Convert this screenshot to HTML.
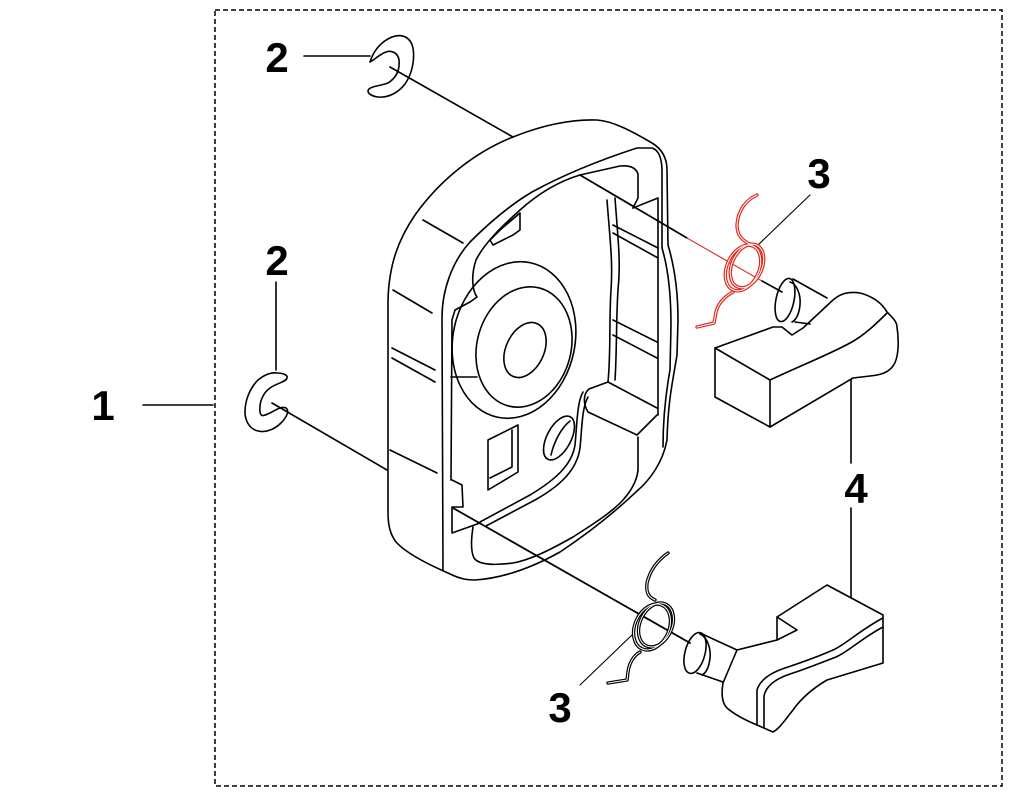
<!DOCTYPE html>
<html>
<head>
<meta charset="utf-8">
<style>
html,body{margin:0;padding:0;background:#fff;}
svg{display:block;}
text{font-family:"Liberation Sans",Arial,sans-serif;font-weight:bold;font-size:42px;fill:#000;}
</style>
</head>
<body>
<svg width="1024" height="800" viewBox="0 0 1024 800" xmlns="http://www.w3.org/2000/svg">
<rect x="0" y="0" width="1024" height="800" fill="#fff"/>
<!-- dashed frame -->
<rect x="215" y="10" width="787" height="776" fill="none" stroke="#000" stroke-width="1.5" stroke-dasharray="5 3"/>

<!-- labels -->
<text x="277" y="72" text-anchor="middle">2</text>
<text x="277" y="275" text-anchor="middle">2</text>
<text x="103" y="420" text-anchor="middle">1</text>
<text x="819" y="188" text-anchor="middle">3</text>
<text x="560" y="722" text-anchor="middle">3</text>
<text x="856" y="503" text-anchor="middle">4</text>

<g fill="none" stroke="#000" stroke-width="1.6" stroke-linejoin="round" stroke-linecap="round">
<!-- leader lines -->
<line x1="304" y1="56" x2="370" y2="56"/>
<line x1="276" y1="282" x2="276" y2="370"/>
<line x1="143" y1="405" x2="213" y2="405"/>
<line x1="851" y1="380" x2="851" y2="463"/>
<line x1="851" y1="508" x2="851" y2="597"/>
<line x1="810" y1="195" x2="758" y2="245" stroke-width="1.1"/>
<line x1="632" y1="635" x2="580" y2="685" stroke-width="1.1"/>
<!-- top clip to upper pin -->
<line x1="390" y1="67" x2="513" y2="137"/>
<line x1="580" y1="175" x2="687" y2="238" stroke-width="1.8"/>
<line x1="687" y1="238" x2="762" y2="281" stroke="#d83a30" stroke-width="1.2"/>
<line x1="762" y1="281" x2="782" y2="292"/>
<!-- lower clip to lower pin -->
<line x1="272" y1="403" x2="387" y2="470"/>
<line x1="453" y1="508" x2="690" y2="643" stroke-width="1.8"/>

<!-- clips -->
<path d="M370,62 C373,52 380,42 392,37 C403,33 411,38 413,48 C415,60 412,74 405,84 C398,93 388,98 378,97 C370,96 366,92 369,89 C372,86 380,86 388,83 C396,78 400,70 399,60 C398,53 392,50 386,52 C380,54 374,60 370,62 Z"/>
<path d="M277,373 C283,373 288,375 287,378 C286,382 277,383 270,388 C263,393 259,402 260,412 C261,418 265,415 270,413 C276,410 281,406 286,408 C290,411 286,418 281,423 C275,429 266,433 258,431 C249,429 245,420 245,412 C245,400 250,388 258,380 C263,376 270,372 277,373 Z"/>

<!-- housing outer body -->
<path d="M513,137 C540,126 570,119 597,120 C612,121 630,130 652,143 C662,149 667,158 667,170 L668,245 C674,265 678,290 678,320 L677,355 C673,380 668,400 667,440 C663,462 650,480 637,491 C615,512 590,532 560,552 C535,566 505,578 475,580 C465,580 458,578 448,573 C425,563 405,552 396,542 C390,534 388,525 388,512 L388,300 C389,265 398,240 415,215 C440,180 475,152 513,137"/>
<!-- front rim outer -->
<path d="M443,570 L442,318 C442,290 452,262 470,242 C490,222 510,205 532,192 C565,174 600,160 637,148 L652,148 C659,150 662,158 662,172 L662,248 C668,268 671,295 671,325 L670,370 C666,392 663,420 663,447"/>
<!-- inner lip -->
<path d="M633,208 L638,198 L638,174 C636,168 630,165 620,166 L580,175 C560,181 540,192 520,210 C500,228 484,244 476,260 C471,275 472,290 477,297 L470,302 L455,310 L452,320 L451,480"/>
<path d="M473,527 C471,540 471,552 474,558 C478,564 490,566 513,563 C530,560 550,550 573,537 C595,523 612,512 623,500 C632,490 637,480 638,470 L638,437"/>
<!-- right groove walls -->
<path d="M633,208 L658,198 L658,415"/>
<path d="M607,200 C610,240 613,262 611,290 C609,320 611,350 608,382"/>
<path d="M615,198 C618,240 621,262 618,290 C616,320 617,350 615,380"/>
<line x1="613" y1="225" x2="658" y2="248"/>
<line x1="613" y1="233" x2="658" y2="258"/>
<line x1="613" y1="320" x2="657" y2="342"/>
<line x1="613" y1="335" x2="657" y2="358"/>
<!-- shelf -->
<path d="M608,382 L657,408"/>
<path d="M608,382 L589,389 C583,394 583,404 588,412 L637,435 L657,415"/>
<path d="M583,392 C577,402 577,425 575,445 C572,465 555,480 530,495 L480,522"/>
<path d="M588,397 C582,407 582,428 580,448 C577,470 560,486 535,500 L486,526"/>
<!-- left grooves -->
<line x1="423" y1="220" x2="463" y2="243"/>
<line x1="393" y1="290" x2="432" y2="313"/>
<line x1="392" y1="348" x2="435" y2="370"/>
<line x1="392" y1="358" x2="435" y2="382"/>
<line x1="390" y1="450" x2="437" y2="473"/>
<!-- small brackets -->
<path d="M490,240 L500,230 L520,213 L520,230 L513,235 L493,245 Z"/>
<path d="M452,480 L462,485 L463,507 L452,507 M452,507 L452,533 L480,523"/>
<!-- boss -->
<ellipse cx="514" cy="340" rx="61" ry="79" transform="rotate(12 514 340)"/>
<ellipse cx="524" cy="347" rx="47" ry="61" transform="rotate(15 524 347)"/>
<line x1="451" y1="377" x2="477" y2="377"/>
<ellipse cx="525" cy="350" rx="19" ry="29" transform="rotate(25 525 350)"/>
<!-- square hole -->
<path d="M488,440 L518,425 L518,472 L488,490 Z"/>
<path d="M490,478 L512,467 L512,430"/>
<!-- round hole -->
<ellipse cx="559" cy="438" rx="12" ry="24" transform="rotate(28 559 438)"/>
<path d="M551,455 C554,442 561,428 570,421"/>

<!-- upper handle -->
<ellipse cx="785" cy="300" rx="9" ry="22" transform="rotate(12 785 300)"/>
<path d="M790,282 C797,284 801,295 800,305 C799,314 796,320 792,322"/>
<path d="M793,279 L827,298"/>
<path d="M795,322 L810,324"/>
<path d="M715,348 L715,397 L770,427 L770,380 Z"/>
<path d="M715,348 L773,327 L782,327 L792,335 L803,328 L833,300 C840,294 848,291 860,293 C872,296 882,303 887,312 C893,318 897,322 897,327 C899,340 899,358 893,366 C888,373 880,375 870,376 L853,378 L770,427"/>
<path d="M770,380 C800,366 830,354 850,343 C865,335 878,322 887,313"/>

<!-- lower handle -->
<ellipse cx="695" cy="653" rx="10" ry="21" transform="rotate(15 695 653)"/>
<path d="M700,634 C707,637 711,648 710,658 C709,667 706,673 702,675"/>
<path d="M700,633 L737,650"/>
<path d="M697,673 L723,682"/>
<path d="M737,650 L777,640 L777,617 L827,585 L883,615 L883,663 L827,680 C810,690 800,700 793,710 C785,720 780,728 773,732 L757,725 C745,720 735,715 727,708 C722,703 721,695 723,683 L737,650"/>
<path d="M777,617 L797,630 L777,640"/>
<path d="M883,618 C860,630 845,645 833,650 C815,658 800,663 785,668 C770,673 760,680 757,690 L757,725"/>
<path d="M883,627 C862,638 848,652 836,657 C818,664 803,670 790,674 C775,679 766,686 764,696 L764,728"/>
</g>

<!-- springs -->
<g fill="none" stroke-linecap="round" stroke-linejoin="round">
<g stroke="#e0281e" stroke-width="3.4">
<path d="M757,195 C746,200 738,210 737,225 C737,235 742,241 752,245"/>
<ellipse cx="743" cy="268" rx="16" ry="24" transform="rotate(25 743 268)"/>
<ellipse cx="747" cy="266" rx="15" ry="23" transform="rotate(25 747 266)"/>
<path d="M733,292 C724,297 718,304 716,312 L714,323 L697,327"/>
</g>
<g stroke="#fff" stroke-width="1">
<path d="M757,195 C746,200 738,210 737,225 C737,235 742,241 752,245"/>
<ellipse cx="743" cy="268" rx="16" ry="24" transform="rotate(25 743 268)"/>
<ellipse cx="747" cy="266" rx="15" ry="23" transform="rotate(25 747 266)"/>
<path d="M733,292 C724,297 718,304 716,312 L714,323 L697,327"/>
</g>
<g stroke="#000" stroke-width="3.4">
<path d="M668,553 C658,560 650,570 647,583 C646,592 648,597 655,600"/>
<ellipse cx="652" cy="627" rx="17" ry="24" transform="rotate(25 652 627)"/>
<ellipse cx="656" cy="625" rx="16" ry="23" transform="rotate(25 656 625)"/>
<path d="M640,652 C633,656 629,664 628,672 L627,680 L608,683"/>
</g>
<g stroke="#fff" stroke-width="1">
<path d="M668,553 C658,560 650,570 647,583 C646,592 648,597 655,600"/>
<ellipse cx="652" cy="627" rx="17" ry="24" transform="rotate(25 652 627)"/>
<ellipse cx="656" cy="625" rx="16" ry="23" transform="rotate(25 656 625)"/>
<path d="M640,652 C633,656 629,664 628,672 L627,680 L608,683"/>
</g>
</g>
</svg>
</body>
</html>
